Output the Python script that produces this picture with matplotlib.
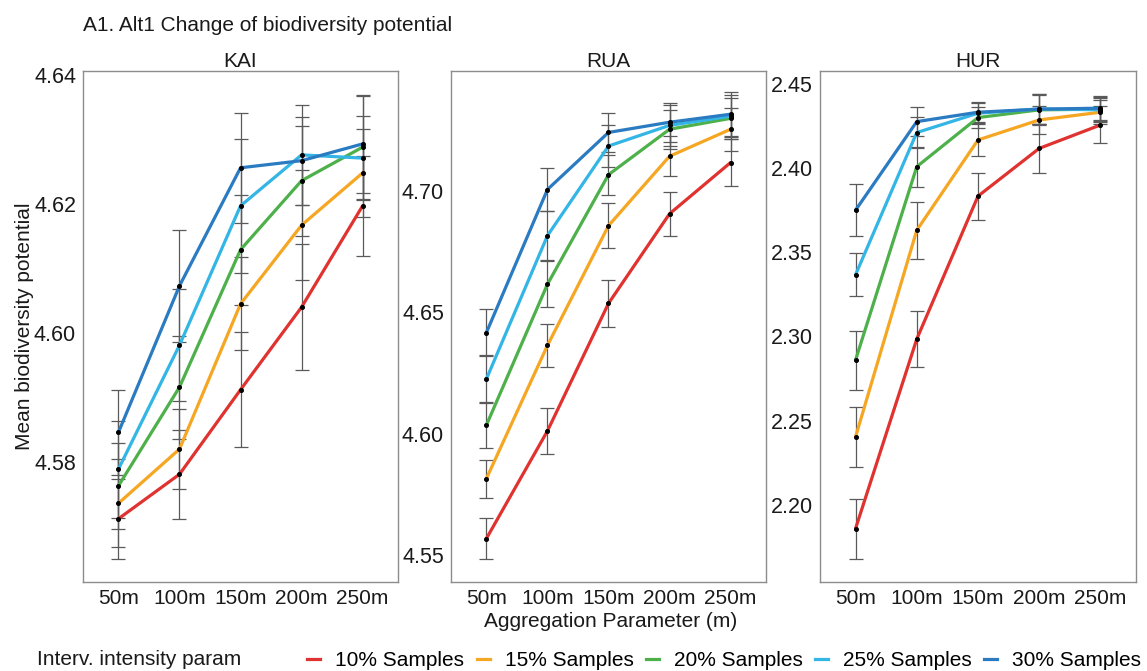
import numpy as np
import matplotlib
matplotlib.use('Agg')
import matplotlib.pyplot as plt
from matplotlib.lines import Line2D

plt.rcParams['font.family'] = ['Liberation Sans', 'DejaVu Sans']

# ---------------------------------------------------------------------------------------------------------------------
# data (mean and error half-width per aggregation step)
agg_labels = ['50m', '100m', '150m', '200m', '250m']
series_labels = ['10% Samples', '15% Samples', '20% Samples', '25% Samples', '30% Samples']
series_colors = ['#E0322F', '#F5A623', '#4DB04A', '#33B5E5', '#2A7BC1']
regions = ['KAI', 'RUA', 'HUR']

kai_mean = [[4.5712, 4.5781, 4.5912, 4.6040, 4.6197],
            [4.5736, 4.5820, 4.6045, 4.6167, 4.6248],
            [4.5763, 4.5916, 4.6129, 4.6236, 4.6288],
            [4.5789, 4.5981, 4.6197, 4.6276, 4.6271],
            [4.5846, 4.6073, 4.6256, 4.6267, 4.6293]]
kai_err = [[0.0062, 0.0069, 0.0089, 0.0098, 0.0078],
           [0.0068, 0.0062, 0.0072, 0.0085, 0.0068],
           [0.0067, 0.0080, 0.0085, 0.0085, 0.0080],
           [0.0075, 0.0087, 0.0104, 0.0077, 0.0065],
           [0.0066, 0.0087, 0.0085, 0.0068, 0.0076]]

rua_mean = [[4.5568, 4.6011, 4.6536, 4.6905, 4.7116],
            [4.5815, 4.6363, 4.6856, 4.7142, 4.7253],
            [4.6035, 4.6615, 4.7066, 4.7253, 4.7298],
            [4.6225, 4.6815, 4.7184, 4.7269, 4.7307],
            [4.6416, 4.7005, 4.7240, 4.7282, 4.7315]]
rua_err = [[0.0083, 0.0095, 0.0095, 0.0090, 0.0096],
           [0.0078, 0.0090, 0.0093, 0.0083, 0.0088],
           [0.0095, 0.0095, 0.0083, 0.0080, 0.0085],
           [0.0098, 0.0100, 0.0085, 0.0085, 0.0087],
           [0.0098, 0.0087, 0.0080, 0.0080, 0.0090]]

hur_mean = [[2.1857, 2.2984, 2.3834, 2.4118, 2.4257],
            [2.2402, 2.3631, 2.4168, 2.4287, 2.4333],
            [2.2859, 2.4009, 2.4301, 2.4347, 2.4351],
            [2.3366, 2.4212, 2.4327, 2.4353, 2.4347],
            [2.3750, 2.4277, 2.4333, 2.4351, 2.4357]]
hur_err = [[0.0178, 0.0166, 0.0139, 0.0145, 0.0110],
           [0.0177, 0.0168, 0.0093, 0.0085, 0.0070],
           [0.0176, 0.0120, 0.0060, 0.0090, 0.0070],
           [0.0128, 0.0090, 0.0060, 0.0090, 0.0070],
           [0.0155, 0.0084, 0.0060, 0.0090, 0.0070]]

y_ticks = [[4.58, 4.60, 4.62, 4.64],
           [4.55, 4.60, 4.65, 4.70],
           [2.20, 2.25, 2.30, 2.35, 2.40, 2.45]]
y_limits = [(4.5614, 4.6406), (4.5389, 4.7493), (2.154, 2.4578)]

means = [kai_mean, rua_mean, hur_mean]
errs = [kai_err, rua_err, hur_err]

# ---------------------------------------------------------------------------------------------------------------------
fig = plt.figure(figsize=(11.47, 6.71), dpi=100)
fs = 15

# axes positions (left, bottom, width, height) in figure fraction
panel_pos = [[0.0724, 0.1326, 0.2746, 0.7616],
             [0.3932, 0.1326, 0.2746, 0.7616],
             [0.7149, 0.1326, 0.2755, 0.7616]]

x = np.arange(len(agg_labels))

for p in range(3):
    ax = fig.add_axes(panel_pos[p])
    for s in range(len(series_labels)):
        m = np.array(means[p][s])
        e = np.array(errs[p][s])
        ax.errorbar(x, m, yerr=e, fmt='none', ecolor='#5a5a5a', elinewidth=0.9,
                    capsize=4.8, capthick=0.9, zorder=1)
    for s in range(len(series_labels)):
        ax.plot(x, means[p][s], color=series_colors[s], lw=2.3, zorder=2, solid_capstyle='round')
    for s in range(len(series_labels)):
        ax.plot(x, means[p][s], 'o', color='black', markersize=2.6, zorder=3)

    ax.set_xlim(-0.58, 4.58)
    ax.set_ylim(*y_limits[p])
    ax.set_xticks(x)
    ax.set_xticklabels(agg_labels)
    ax.set_yticks(y_ticks[p])
    ax.set_yticklabels(['{:.2f}'.format(v) for v in y_ticks[p]])
    ax.tick_params(length=0, labelsize=fs, pad=5, colors='#1a1a1a')
    ax.tick_params(axis='y', labelsize=15.5)
    for sp in ax.spines.values():
        sp.set_color('#8c8c8c')
        sp.set_linewidth(1.0)
    ax.set_title(regions[p], fontsize=fs, pad=3, color='#1a1a1a')

fig.text(0.0724, 0.9627, 'A1. Alt1 Change of biodiversity potential', fontsize=fs, ha='left', va='center',
         color='#1a1a1a')
fig.text(0.021, 0.514, 'Mean biodiversity potential', fontsize=fs, rotation=90, ha='center', va='center',
         color='#1a1a1a')
fig.text(0.532, 0.074, 'Aggregation Parameter (m)', fontsize=fs, ha='center', va='center', color='#1a1a1a')

# legend at the bottom, title on the left like ggplot
fig.text(0.032, 0.0165, 'Interv. intensity param', fontsize=fs, ha='left', va='center', color='#1a1a1a')
handles = [Line2D([0], [0], color=c, lw=2.3) for c in series_colors]
fig.legend(handles, series_labels, loc='center right', bbox_to_anchor=(0.995, 0.015), ncol=5,
           frameon=False, fontsize=fs, handlelength=0.62, handletextpad=0.72, columnspacing=0.6,
           borderpad=0, borderaxespad=0)

fig.savefig('out.png', dpi=100)
